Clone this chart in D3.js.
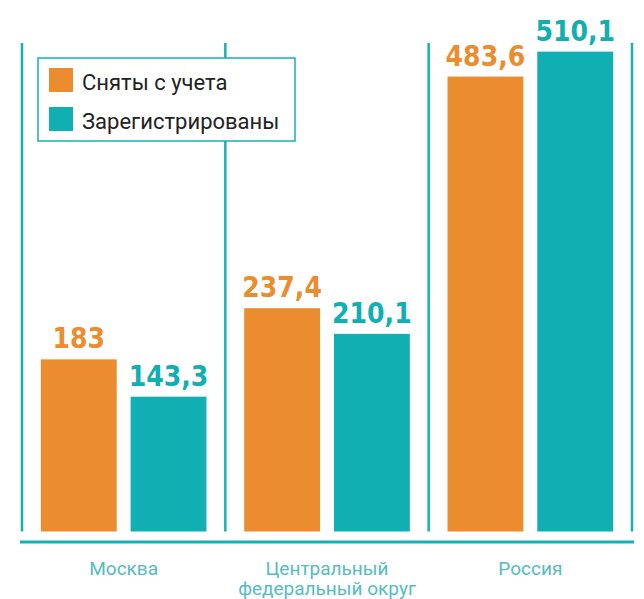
<!DOCTYPE html>
<html>
<head>
<meta charset="utf-8">
<script src="https://cdn.jsdelivr.net/npm/d3@7"></script>
<style>
  html, body { margin: 0; padding: 0; background: #fff; }
  svg { display: block; }
</style>
</head>
<body>
<svg id="chart" width="644" height="599"></svg>
<script>
// данные
const regions = ["Москва", "Центральный федеральный округ", "Россия"];
const regionLines = [["Москва"], ["Центральный", "федеральный округ"], ["Россия"]];
const seriesNames = ["Сняты с учета", "Зарегистрированы"];
const removed = [183, 237.4, 483.6];
const registered = [143.3, 210.1, 510.1];
const valueLabels = [["183", "237,4", "483,6"], ["143,3", "210,1", "510,1"]];

const colors = ["#eb8d2f", "#11afb2"];
const lineColor = "#17b1b3";
const catColor = "#55bcbf";

const svg = d3.select("#chart");

const x = d3.scaleBand().domain(regions).range([22, 632]).padding(0);
const xs = d3.scaleBand().domain(seriesNames).range([0, x.bandwidth()])
  .paddingInner(0.155).paddingOuter(0.21);
const y = d3.scaleLinear().domain([0, 565]).range([531.5, 0]);

// вертикальные разделители
const edges = regions.map(r => x(r)).concat([x(regions[2]) + x.bandwidth()]);
svg.append("g").selectAll("line").data(edges).join("line")
  .attr("x1", d => d).attr("x2", d => d)
  .attr("y1", 43).attr("y2", y(0))
  .attr("stroke", lineColor).attr("stroke-width", 2.5);

// столбцы
const series = [removed, registered];
const rows = [];
series.forEach((vals, si) => vals.forEach((v, i) => rows.push({ si, i, v, label: valueLabels[si][i] })));

const bars = svg.append("g");
bars.selectAll("rect").data(rows).join("rect")
  .attr("x", d => x(regions[d.i]) + xs(seriesNames[d.si]))
  .attr("y", d => y(d.v))
  .attr("width", xs.bandwidth())
  .attr("height", d => y(0) - y(d.v))
  .attr("fill", d => colors[d.si]);

bars.selectAll("text").data(rows).join("text")
  .attr("x", d => x(regions[d.i]) + xs(seriesNames[d.si]) + xs.bandwidth() / 2)
  .attr("y", d => y(d.v) - 11)
  .attr("text-anchor", "middle")
  .attr("font-family", "'DejaVu Sans Condensed', 'DejaVu Sans', sans-serif")
  .attr("font-stretch", "condensed")
  .attr("font-weight", "bold")
  .attr("font-size", 28)
  .attr("fill", d => colors[d.si])
  .text(d => d.label);

// ось
svg.append("line")
  .attr("x1", 20).attr("x2", 634)
  .attr("y1", 542).attr("y2", 542)
  .attr("stroke", lineColor).attr("stroke-width", 3);

const cats = svg.append("g").selectAll("text").data(regions).join("text")
  .attr("x", d => x(d) + x.bandwidth() / 2)
  .attr("y", 575)
  .attr("text-anchor", "middle")
  .attr("font-family", "Roboto, sans-serif")
  .attr("font-size", 19)
  .attr("fill", catColor);
cats.selectAll("tspan").data((d, i) => regionLines[i]).join("tspan")
  .attr("x", function() { return d3.select(this.parentNode).attr("x"); })
  .attr("dy", (d, j) => j === 0 ? 0 : 20)
  .text(d => d);

// легенда
const legend = svg.append("g");
legend.append("rect")
  .attr("x", 38).attr("y", 58).attr("width", 257).attr("height", 83)
  .attr("fill", "#fff").attr("stroke", lineColor).attr("stroke-width", 1.5);
const items = legend.selectAll("g.item").data(seriesNames).join("g")
  .attr("class", "item")
  .attr("transform", (d, i) => `translate(49,${68 + i * 39})`);
items.append("rect").attr("width", 24).attr("height", 24).attr("fill", (d, i) => colors[i]);
items.append("text")
  .attr("x", 33).attr("y", 22)
  .attr("font-family", "Roboto, sans-serif")
  .attr("font-size", 22)
  .attr("fill", "#222")
  .text(d => d);
</script>
</body>
</html>
